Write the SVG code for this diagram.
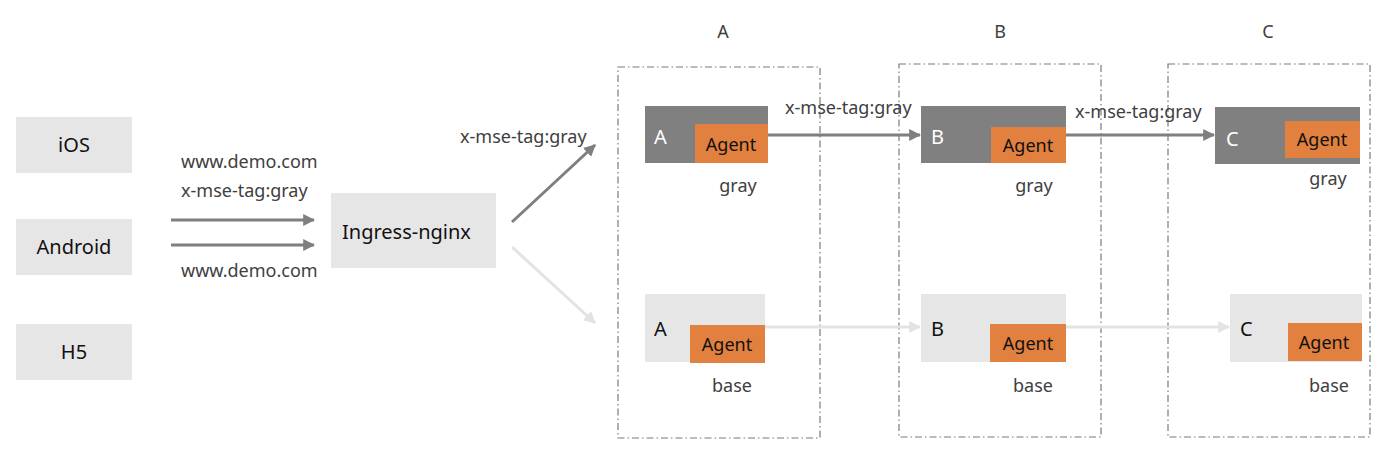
<svg xmlns="http://www.w3.org/2000/svg" width="1400" height="451" viewBox="0 0 1400 451">
<style>
text{font-family:"Noto Sans","Open Sans","Liberation Sans",sans-serif;}
.light{fill:#e7e6e6;}
.dark{fill:#808080;}
.agent{fill:#e1803f;}
.t{font-size:20px;fill:#111;}
.tw{font-size:20px;fill:#fff;}
.ta{font-size:18px;fill:#111;}
.lbl{font-size:18px;fill:#404040;}
.cl{fill:none;stroke:#7a7a7a;stroke-width:1.2;stroke-dasharray:7 3 1.5 3;}
.ad{stroke:#7f7f7f;stroke-width:3;fill:none;}
.al{stroke:#e3e3e3;stroke-width:3;fill:none;}
</style>
<defs>
<marker id="mD" viewBox="0 0 10 10" refX="9" refY="5" markerWidth="4" markerHeight="4" orient="auto" markerUnits="strokeWidth"><path d="M0,0L10,5L0,10z" fill="#7f7f7f"/></marker>
<marker id="mL" viewBox="0 0 10 10" refX="9" refY="5" markerWidth="4" markerHeight="4" orient="auto" markerUnits="strokeWidth"><path d="M0,0L10,5L0,10z" fill="#e3e3e3"/></marker>
</defs>
<rect width="1400" height="451" fill="#fff"/>

<g id="clusters">
<rect class="cl" x="618" y="67" width="202" height="371"/>
<text x="723" y="38" class="lbl" text-anchor="middle">A</text>
<rect class="cl" x="899" y="64" width="202" height="373"/>
<text x="1000" y="38" class="lbl" text-anchor="middle">B</text>
<rect class="cl" x="1168" y="64" width="202" height="373"/>
<text x="1268" y="38" class="lbl" text-anchor="middle">C</text>
</g>

<g id="ios"><rect class="light" x="16" y="117" width="116" height="56"/><text class="t" x="74" y="152" text-anchor="middle">iOS</text></g>
<g id="android"><rect class="light" x="16" y="219" width="116" height="56"/><text class="t" x="74" y="254" text-anchor="middle">Android</text></g>
<g id="h5"><rect class="light" x="16" y="324" width="116" height="56"/><text class="t" x="74" y="359" text-anchor="middle">H5</text></g>
<g id="ingress"><rect class="light" x="331" y="193" width="165" height="75"/><text class="t" x="342" y="239">Ingress-nginx</text></g>

<g id="a-gray"><rect class="dark" x="645" y="106" width="123" height="57"/><rect class="agent" x="695" y="124" width="73" height="39"/><text class="tw" x="654" y="144">A</text><text class="ta" x="731" y="151" text-anchor="middle">Agent</text><text class="lbl" x="738" y="192" text-anchor="middle">gray</text></g>
<g id="a-base"><rect class="light" x="645" y="294" width="120" height="68"/><rect class="agent" x="690" y="325" width="75" height="38"/><text class="t" x="654" y="336">A</text><text class="ta" x="727" y="351" text-anchor="middle">Agent</text><text class="lbl" x="732" y="392" text-anchor="middle">base</text></g>

<g id="b-gray"><rect class="dark" x="921" y="106" width="145" height="57"/><rect class="agent" x="991" y="127" width="75" height="36"/><text class="tw" x="931" y="144">B</text><text class="ta" x="1028" y="152" text-anchor="middle">Agent</text><text class="lbl" x="1034" y="192" text-anchor="middle">gray</text></g>
<g id="b-base"><rect class="light" x="921" y="294" width="145" height="68"/><rect class="agent" x="990" y="324" width="76" height="38"/><text class="t" x="931" y="336">B</text><text class="ta" x="1028" y="350" text-anchor="middle">Agent</text><text class="lbl" x="1033" y="392" text-anchor="middle">base</text></g>

<g id="c-gray"><rect class="dark" x="1215" y="107" width="145" height="57"/><rect class="agent" x="1285" y="121" width="75" height="37"/><text class="tw" x="1226" y="146">C</text><text class="ta" x="1322" y="146" text-anchor="middle">Agent</text><text class="lbl" x="1328" y="185" text-anchor="middle">gray</text></g>
<g id="c-base"><rect class="light" x="1230" y="294" width="132" height="68"/><rect class="agent" x="1288" y="323" width="74" height="38"/><text class="t" x="1240" y="336">C</text><text class="ta" x="1324" y="349" text-anchor="middle">Agent</text><text class="lbl" x="1329" y="392" text-anchor="middle">base</text></g>

<g id="connectors">
<line class="ad" x1="171" y1="220" x2="314" y2="220" marker-end="url(#mD)"/>
<line class="ad" x1="171" y1="245" x2="314" y2="245" marker-end="url(#mD)"/>
<text class="lbl" x="181" y="168">www.demo.com</text>
<text class="lbl" x="181" y="197">x-mse-tag:gray</text>
<text class="lbl" x="181" y="277">www.demo.com</text>
<line class="ad" x1="512" y1="222" x2="595" y2="145" marker-end="url(#mD)"/>
<text class="lbl" x="460" y="143">x-mse-tag:gray</text>
<line class="al" x1="512" y1="247" x2="595" y2="323" marker-end="url(#mL)"/>
<line class="ad" x1="768" y1="135" x2="920" y2="135" marker-end="url(#mD)"/>
<text class="lbl" x="785" y="114">x-mse-tag:gray</text>
<line class="ad" x1="1066" y1="135" x2="1214" y2="135" marker-end="url(#mD)"/>
<text class="lbl" x="1075" y="118">x-mse-tag:gray</text>
<line class="al" x1="765" y1="327" x2="920" y2="327" marker-end="url(#mL)"/>
<line class="al" x1="1066" y1="327" x2="1229" y2="327" marker-end="url(#mL)"/>
</g>
</svg>
